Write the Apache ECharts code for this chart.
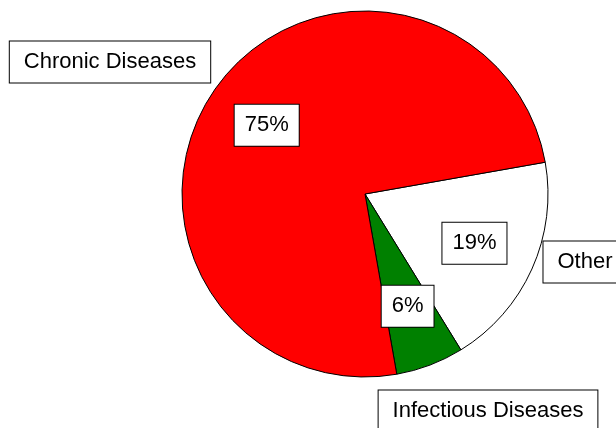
<!DOCTYPE html>
<html>
<head>
<meta charset="utf-8">
<script src="https://cdn.jsdelivr.net/npm/echarts@6/dist/echarts.min.js"></script>
<style>html,body{margin:0;padding:0;background:#fff;}#c{width:616px;height:428px;}</style>
</head>
<body>
<div id="c"></div>
<script>
// Data
const categories = ['Other', 'Infectious Diseases', 'Chronic Diseases'];
const values = [19, 6, 75];

// Styling / layout
const sliceColors = ['#FFFFFF', '#008000', '#FF0000'];
const CX = 365, CY = 194, R = 183;
const PCT_R = 120;
const nameAnchors = [[585, 262], [488, 411], [110, 62]];

const chart = echarts.init(document.getElementById('c'));
const pieData = categories.map((c, i) => ({ name: c, value: values[i], itemStyle: { color: sliceColors[i] } }));
const boxStyle = {
  color: '#000', fontSize: 22, fontFamily: 'Liberation Sans, Arial, sans-serif',
  backgroundColor: '#fff', borderColor: '#000', borderWidth: 1, lineHeight: 22, overflow: 'none'
};
chart.setOption({
  animation: false,
  series: [
    {
      type: 'pie', center: [CX, CY], radius: [0, R], startAngle: 10, clockwise: true,
      silent: true, emphasis: { disabled: true },
      itemStyle: { borderColor: '#000', borderWidth: 1 },
      data: pieData,
      label: Object.assign({ show: true, position: 'inside', formatter: p => p.value + '%', padding: [10, 10, 9, 10] }, boxStyle),
      labelLine: { show: false },
      labelLayout: function (p) {
        const r = p.labelRect;
        const lx = r.x + r.width / 2, ly = r.y + r.height / 2;
        const d = Math.hypot(lx - CX, ly - CY) || 1;
        const k = PCT_R / d;
        return { dx: (k - 1) * (lx - CX), dy: (k - 1) * (ly - CY) };
      }
    },
    {
      type: 'pie', center: [CX, CY], radius: [0, R], startAngle: 10, clockwise: true,
      silent: true, emphasis: { disabled: true },
      itemStyle: { color: 'rgba(0,0,0,0)', borderWidth: 0 },
      data: categories.map((c, i) => ({ name: c, value: values[i] })),
      label: Object.assign({ show: true, position: 'inside', formatter: '{b}', padding: [10, 14, 9, 14] }, boxStyle),
      labelLine: { show: false },
      labelLayout: function (p) {
        const a = nameAnchors[p.dataIndex];
        return { x: a[0], y: a[1], align: 'center', verticalAlign: 'middle' };
      }
    }
  ]
});
</script>
</body>
</html>
